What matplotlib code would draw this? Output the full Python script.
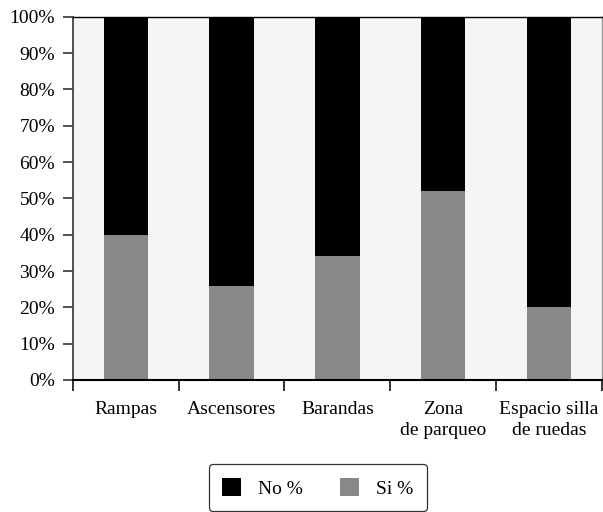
import matplotlib
matplotlib.use("Agg")

import matplotlib.pyplot as plt
import numpy as np
from matplotlib.patches import Patch
from matplotlib.ticker import FixedLocator, PercentFormatter

# Accessibility features: share of "Si" answers, remainder is "No"
categories = ["Rampas", "Ascensores", "Barandas", "Zona\nde parqueo", "Espacio silla\nde ruedas"]
si_pct = [40, 26, 34, 52, 20]
no_pct = [100 - v for v in si_pct]

plt.rcParams["font.family"] = ["Liberation Serif", "DejaVu Serif"]
plt.rcParams["font.size"] = 14

fig = plt.figure(figsize=(6.03, 5.12), dpi=100)
ax = fig.add_axes([0.121, 0.258, 0.877, 0.709])
ax.set_facecolor("#f5f5f5")

x = np.arange(len(categories))
ax.bar(x, si_pct, width=0.42, color="#888888", zorder=2)
ax.bar(x, no_pct, bottom=si_pct, width=0.42, color="#000000", zorder=2)

ax.set_xlim(-0.5, len(categories) - 0.5)
ax.set_ylim(0, 100)
ax.set_yticks(np.arange(0, 101, 10))
ax.yaxis.set_major_formatter(PercentFormatter(decimals=0))

# category labels sit between boundary ticks
ax.set_xticks(x)
ax.set_xticklabels(categories, linespacing=1.35, fontsize=14)
ax.tick_params(axis="x", which="major", length=0, pad=15)
ax.xaxis.set_minor_locator(FixedLocator(np.arange(-0.5, len(categories), 1.0)))
ax.tick_params(axis="x", which="minor", length=8, width=1.3, color="#222222")
ax.tick_params(axis="y", length=7, width=1.3, color="#444444", pad=6)

ax.spines["left"].set_color("#444444")
ax.spines["left"].set_linewidth(1.3)
ax.spines["bottom"].set_color("#000000")
ax.spines["bottom"].set_linewidth(1.5)
ax.spines["top"].set_color("#000000")
ax.spines["top"].set_linewidth(1.0)
ax.spines["right"].set_color("#999999")
ax.spines["right"].set_linewidth(1.0)

handles = [Patch(facecolor="#000000", label="No %"), Patch(facecolor="#888888", label="Si %")]
leg = fig.legend(handles=handles, loc="center", bbox_to_anchor=(0.527, 0.047), ncol=2,
                 frameon=True, fancybox=True, edgecolor="#000000", fontsize=14,
                 handlelength=0.95, handleheight=1.05, handletextpad=0.9,
                 columnspacing=1.9, borderpad=0.7, borderaxespad=0)
leg.get_frame().set_linewidth(0.9)

fig.savefig("out.png", dpi=100)
